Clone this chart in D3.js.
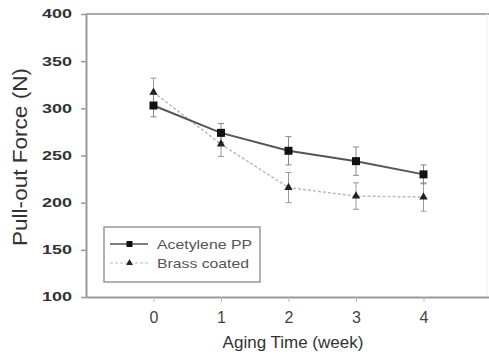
<!DOCTYPE html>
<html>
<head>
<meta charset="utf-8">
<script src="https://cdn.jsdelivr.net/npm/d3@7"></script>
<style>
  body { margin: 0; background: #fff; }
  svg { display: block; font-family: "Liberation Sans", Arial, sans-serif; }
</style>
</head>
<body>
<div id="chart"></div>
<script>
// data
const weeks = [0, 1, 2, 3, 4];
const acetylene = [303, 274, 255, 244, 230];
const acetyleneErr = [12, 10, 15, 15, 10];
const brass = [317, 262, 216, 207, 206];
const brassErr = [15, 13, 16, 14, 15];
const yTicks = [100, 150, 200, 250, 300, 350, 400];
const xTicks = [0, 1, 2, 3, 4];
const seriesNames = ["Acetylene PP", "Brass coated"];

const width = 489, height = 355;
const margin = { top: 14, right: 0, bottom: 58, left: 86 };

const svg = d3.select("#chart").append("svg")
  .attr("width", width)
  .attr("height", height);

const x = d3.scaleLinear().domain([-1, 5]).range([margin.left, 491]);
const y = d3.scaleLinear().domain([100, 400]).range([height - margin.bottom, margin.top]);

// frame
svg.append("line")
  .attr("x1", margin.left).attr("x2", width)
  .attr("y1", y(400)).attr("y2", y(400))
  .attr("stroke", "#aaa").attr("stroke-width", 2);
svg.append("line")
  .attr("x1", 487).attr("x2", 487)
  .attr("y1", y(400)).attr("y2", y(100))
  .attr("stroke", "#eee").attr("stroke-width", 1);

// y axis
const yAxis = svg.append("g")
  .attr("transform", `translate(${margin.left},0)`)
  .call(d3.axisLeft(y).tickValues(yTicks).tickSize(5).tickSizeOuter(0).tickPadding(8));
yAxis.select(".domain").attr("stroke", "#999").attr("stroke-width", 2);
yAxis.selectAll(".tick line").attr("stroke", "#999").attr("stroke-width", 1.5);
yAxis.selectAll(".tick text")
  .attr("fill", "#333")
  .attr("font-size", 12)
  .attr("font-weight", "bold")
  .attr("textLength", 30)
  .attr("lengthAdjust", "spacingAndGlyphs")
  .attr("x", -14);

// x axis
const xAxis = svg.append("g")
  .attr("transform", `translate(0,${y(100)})`)
  .call(d3.axisBottom(x).tickValues(xTicks).tickFormat(d3.format("d"))
    .tickSize(5).tickSizeOuter(0).tickPadding(10));
xAxis.select(".domain").attr("stroke", "#999").attr("stroke-width", 2);
xAxis.selectAll(".tick line").attr("stroke", "#bbb").attr("stroke-width", 1);
xAxis.selectAll(".tick text")
  .attr("fill", "#444")
  .attr("font-size", 16);

// axis titles
svg.append("text")
  .attr("transform", `translate(27,157) rotate(-90)`)
  .attr("text-anchor", "middle")
  .attr("font-size", 20)
  .attr("fill", "#333")
  .attr("textLength", 178)
  .attr("lengthAdjust", "spacingAndGlyphs")
  .text("Pull-out Force (N)");

svg.append("text")
  .attr("x", 293).attr("y", 348)
  .attr("text-anchor", "middle")
  .attr("font-size", 17)
  .attr("fill", "#333")
  .text("Aging Time (week)");

const line = d3.line().x((d, i) => x(weeks[i])).y(d => y(d));

// brass coated (drawn first, behind)
svg.append("path")
  .datum(brass)
  .attr("fill", "none")
  .attr("stroke", "#bbb")
  .attr("stroke-width", 1.5)
  .attr("stroke-dasharray", "3,2")
  .attr("d", line);

svg.append("path")
  .datum(acetylene)
  .attr("fill", "none")
  .attr("stroke", "#555")
  .attr("stroke-width", 2)
  .attr("d", line);

// error bars
function errorBars(values, errs, color) {
  const g = svg.append("g").attr("stroke", color).attr("stroke-width", 1);
  values.forEach((v, i) => {
    const cx = x(weeks[i]);
    g.append("line")
      .attr("x1", cx).attr("x2", cx)
      .attr("y1", y(v - errs[i])).attr("y2", y(v + errs[i]));
    [v - errs[i], v + errs[i]].forEach(e => {
      g.append("line")
        .attr("x1", cx - 3).attr("x2", cx + 3)
        .attr("y1", y(e)).attr("y2", y(e));
    });
  });
}
errorBars(brass, brassErr, "#999");
errorBars(acetylene, acetyleneErr, "#888");

const tri = d3.symbol().type(d3.symbolTriangle).size(30);

svg.append("g").selectAll("path")
  .data(brass)
  .join("path")
  .attr("transform", (d, i) => `translate(${x(weeks[i])},${y(d)})`)
  .attr("d", tri)
  .attr("fill", "#222");

svg.append("g").selectAll("rect")
  .data(acetylene)
  .join("rect")
  .attr("x", (d, i) => x(weeks[i]) - 4)
  .attr("y", d => y(d) - 4)
  .attr("width", 8).attr("height", 8)
  .attr("fill", "#111");

// legend
const legend = svg.append("g");
legend.append("rect")
  .attr("x", 104).attr("y", 227)
  .attr("width", 156).attr("height", 55)
  .attr("fill", "#fff")
  .attr("stroke", "#999")
  .attr("stroke-width", 1.5);

const rows = [
  { name: seriesNames[0], y: 244, stroke: "#555", dash: null, w: 1.5, mark: "square", len: 95 },
  { name: seriesNames[1], y: 263, stroke: "#bbb", dash: "3,2", w: 1.2, mark: "triangle", len: 92 }
];
rows.forEach(r => {
  legend.append("line")
    .attr("x1", 110).attr("x2", 148)
    .attr("y1", r.y).attr("y2", r.y)
    .attr("stroke", r.stroke)
    .attr("stroke-width", r.w)
    .attr("stroke-dasharray", r.dash);
  if (r.mark === "square") {
    legend.append("rect")
      .attr("x", 126.5).attr("y", r.y - 3)
      .attr("width", 6).attr("height", 6)
      .attr("fill", "#111");
  } else {
    legend.append("path")
      .attr("transform", `translate(129.5,${r.y})`)
      .attr("d", d3.symbol().type(d3.symbolTriangle).size(20))
      .attr("fill", "#222");
  }
  legend.append("text")
    .attr("x", 157).attr("y", r.y + 5)
    .attr("font-size", 13)
    .attr("fill", "#555")
    .attr("textLength", r.len)
    .attr("lengthAdjust", "spacingAndGlyphs")
    .text(r.name);
});
</script>
</body>
</html>
